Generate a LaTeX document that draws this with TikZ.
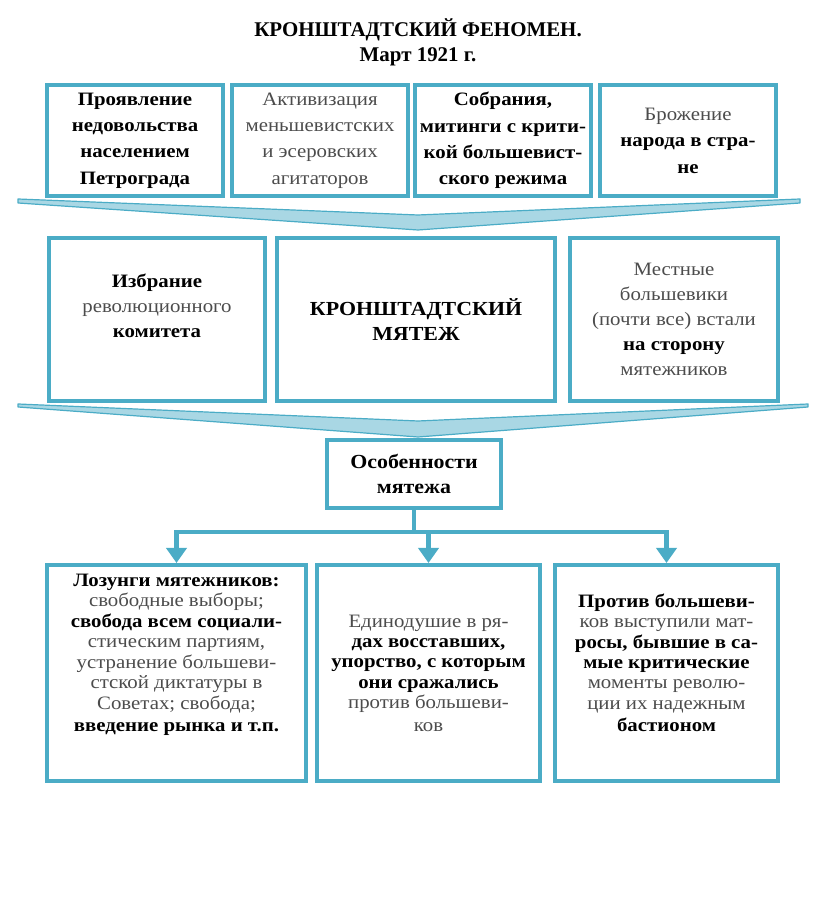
\documentclass[tikz,border=0pt]{standalone}
\usepackage{fontspec}
\setmainfont{Liberation Serif}
\newfontfamily\boxfont{Liberation Serif}[FakeStretch=1.1]
\usepackage{xcolor}
\usepackage{tikz}
\usetikzlibrary{positioning,arrows.meta}
\definecolor{aqua}{HTML}{4BACC6}
\definecolor{aqualight}{HTML}{A9D7E4}
\newcommand{\lite}[1]{{\mdseries\color{black!70}#1}}

\begin{document}
\begin{tikzpicture}[x=1bp, y=1bp,
  box/.style={draw=aqua, line width=4bp, fill=white, align=center, inner sep=2bp,
              font=\boxfont\bfseries},
  tbox/.style={box, minimum width=176bp, minimum height=111bp,
               font=\boxfont\fontsize{19}{26.5}\selectfont\bfseries},
  mbox/.style={box, minimum height=163bp, font=\boxfont\fontsize{19}{25}\selectfont\bfseries},
  bbox/.style={box, minimum height=216bp, font=\boxfont\fontsize{19}{20.5}\selectfont\bfseries},
  chev/.style={fill=aqualight, draw=aqua, line width=1.2bp, line join=round},
  feed/.style={draw=aqua, line width=4.5bp},
  ar/.style={feed, -{Triangle[width=20bp, length=15bp]}}]
\useasboundingbox (0,0) rectangle (816,914);
\node[font=\fontsize{21}{25}\selectfont\bfseries, align=center] (title) at (418,872)
  {КРОНШТАДТСКИЙ ФЕНОМЕН.\\Март 1921 г.};
% chevrons between the rows
\draw[chev] (18,715) -- (418,699) -- (800,715) -- (800,711) -- (418,684) -- (18,711) -- cycle;
\draw[chev] (18,510) -- (418,493) -- (808,510) -- (808,507) -- (418,477) -- (18,507) -- cycle;
% causes
\node[tbox] (t1) at (135,773.5) {Проявление\\недовольства\\населением\\Петрограда};
\node[tbox, right=5bp of t1] (t2) {\lite{Активизация}\\\lite{меньшевистских}\\\lite{и эсеровских}\\\lite{агитаторов}};
\node[tbox, right=3bp of t2] (t3) {Собрания,\\митинги с крити-\\кой большевист-\\ского режима};
\node[tbox, right=5bp of t3] (t4) {\lite{Брожение}\\народа в стра-\\не};
% the revolt
\node[mbox, minimum width=216bp] (m1) at (157,594.5) {Избрание\\\lite{революционного}\\комитета\\[3bp]\mbox{}};
\node[mbox, minimum width=278bp, right=8bp of m1, font=\boxfont\fontsize{20}{25}\selectfont\bfseries] (m2)
  {КРОНШТАДТСКИЙ\\МЯТЕЖ};
\node[mbox, minimum width=208bp, right=11bp of m2] (m3)
  {\lite{Местные}\\\lite{большевики}\\\lite{(почти все) встали}\\на сторону\\\lite{мятежников}};
\node[box, minimum width=174bp, minimum height=68bp, font=\boxfont\fontsize{20}{25}\selectfont\bfseries]
  (feat) at (414,440) {Особенности\\мятежа};
% features
\node[bbox, minimum width=259bp] (b1) at (176.5,241)
  {Лозунги мятежников:\\\lite{свободные выборы;}\\свобода всем социали-\\\lite{стическим партиям,}\\
   \lite{устранение большеви-}\\\lite{стской диктатуры в}\\\lite{Советах; свобода;}\\[2pt]введение рынка и т.п.\\[20bp]\mbox{}};
\node[bbox, minimum width=223bp, right=7bp of b1] (b2)
  {\lite{Единодушие в ря-}\\дах восставших,\\упорство, с которым\\они сражались\\
   \lite{против большеви-}\\[2pt]\lite{ков}};
\node[bbox, minimum width=223bp, right=11bp of b2] (b3)
  {Против большеви-\\\lite{ков выступили мат-}\\росы, бывшие в са-\\мые критические\\
   \lite{моменты револю-}\\\lite{ции их надежным}\\[2pt]бастионом\\[0bp]\mbox{}};
\draw[feed] (feat.south) -- ++(0,-22) coordinate (hub);
\foreach \b in {b1,b2,b3}
  \draw[ar] (hub) -| (\b.north);
\end{tikzpicture}
\end{document}
